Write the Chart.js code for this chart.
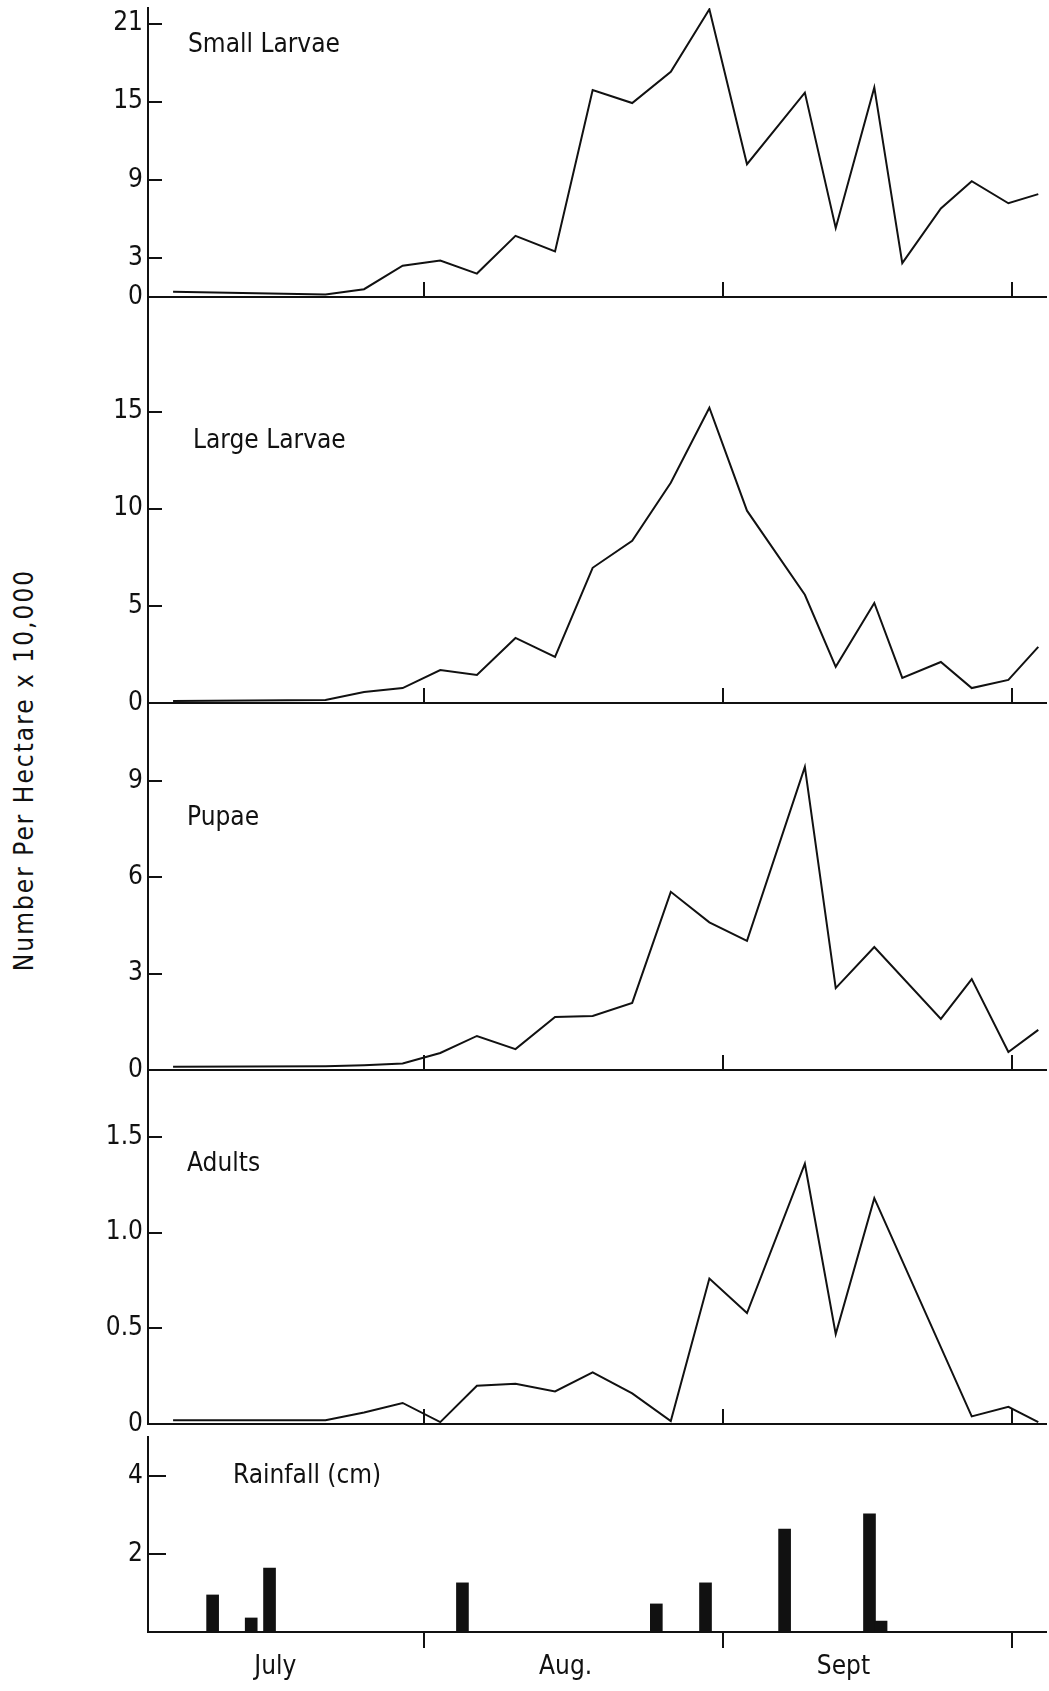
<!DOCTYPE html>
<html>
<head>
<meta charset="utf-8">
<title>Number per hectare and rainfall</title>
<script src="https://cdn.jsdelivr.net/npm/chart.js@4.4.1/dist/chart.umd.min.js"></script>
<style>
  html, body { margin: 0; padding: 0; background: #fff; }
  #figure { position: relative; width: 1049px; height: 1691px; overflow: hidden; }
  #figure canvas { position: absolute; left: 0; }
  #yTitle {
    position: absolute; left: 24px; top: 770px;
    transform: translate(-50%, -50%) rotate(-90deg);
    white-space: nowrap; color: #111;
    font: 26px 'DejaVu Sans Condensed', 'Liberation Sans Narrow', 'DejaVu Sans', sans-serif;
    letter-spacing: 2px;
  }
</style>
</head>
<body>
<div id="figure">
  <div id="yTitle">Number Per Hectare x 10,000</div>
</div>
<script>
// Days are counted from July 1 (Aug 1 = 31, Sept 1 = 62, Oct 1 = 92)
const sampleDays = [5, 20.8, 24.8, 28.8, 32.7, 36.5, 40.5, 44.6, 48.5, 52.6, 56.6, 60.6, 64.5, 70.5, 73.7, 77.7, 80.6, 84.6, 87.8, 91.6, 94.7];

const smallLarvae = [0.4, 0.2, 0.6, 2.4, 2.8, 1.8, 4.7, 3.5, 15.9, 14.9, 17.3, 22.1, 10.2, 15.7, 5.3, 16.1, 2.6, 6.8, 8.9, 7.2, 7.9];
const largeLarvae = [0.1, 0.15, 0.57, 0.77, 1.7, 1.44, 3.35, 2.37, 6.96, 8.35, 11.34, 15.2, 9.9, 5.57, 1.86, 5.15, 1.29, 2.11, 0.77, 1.19, 2.89];
const pupae = [0.1, 0.12, 0.15, 0.2, 0.53, 1.06, 0.65, 1.65, 1.68, 2.09, 5.55, 4.6, 4.02, 9.44, 2.55, 3.83, null, 1.59, 2.83, 0.56, 1.25];
const adults = [0.02, 0.02, 0.06, 0.11, 0.01, 0.2, 0.21, 0.17, 0.27, 0.16, 0.015, 0.76, 0.58, 1.36, 0.47, 1.18, null, null, 0.04, 0.09, 0.01];

const rainDays = [9.1, 13.1, 15.0, 35.0, 55.1, 60.2, 68.4, 77.2, 78.4];
const rainCm = [0.95, 0.36, 1.64, 1.26, 0.72, 1.26, 2.64, 3.03, 0.28];

const monthStarts = [31, 62, 92];
const monthLabelDays = [15.6, 45.7, 74.5];
const monthNames = ['July', 'Aug.', 'Sept'];

const smallTicks = [0, 3, 9, 15, 21];
const largeTicks = [0, 5, 10, 15];
const pupaeTicks = [0, 3, 6, 9];
const adultTicks = [0, 0.5, 1.0, 1.5];
const rainTicks = [2, 4];

const FONT = "'DejaVu Sans Condensed', 'Liberation Sans Narrow', 'DejaVu Sans', sans-serif";
const INK = '#111';
const PAD = 40;
const X_MIN = 2.4;
const X_MAX = 95.5;

Chart.defaults.font.family = FONT;
Chart.defaults.font.size = 26;
Chart.defaults.color = INK;

// inward tick marks, month marks and the panel caption
const axisMarks = {
    id: 'axisMarks',
    afterDraw(chart, args, opts) {
        const { ctx, chartArea, scales } = chart;
        ctx.save();
        ctx.strokeStyle = INK;
        ctx.lineWidth = 2;
        ctx.beginPath();
        scales.y.ticks.forEach(t => {
            if (t.value === 0) return;
            const py = Math.round(scales.y.getPixelForValue(t.value));
            ctx.moveTo(chartArea.left, py);
            ctx.lineTo(chartArea.left + opts.yLen, py);
        });
        monthStarts.forEach(d => {
            const px = Math.round(scales.x.getPixelForValue(d));
            ctx.moveTo(px, chartArea.bottom);
            ctx.lineTo(px, chartArea.bottom + opts.xLen);
        });
        ctx.stroke();

        ctx.fillStyle = INK;
        ctx.font = '26px ' + FONT;
        ctx.textBaseline = 'alphabetic';
        ctx.textAlign = 'left';
        ctx.fillText(opts.label, opts.labelX, opts.labelY - chart.canvas.offsetTop);
        ctx.restore();
    }
};

const figure = document.getElementById('figure');

function addCanvas(top, height) {
    const c = document.createElement('canvas');
    c.width = 1049;
    c.height = height;
    c.style.top = top + 'px';
    figure.appendChild(c);
    return c;
}

function panelOptions(p) {
    return {
        responsive: false,
        animation: false,
        events: [],
        layout: { padding: { top: PAD, bottom: p.padBottom, left: 0, right: 3 } },
        plugins: {
            legend: { display: false },
            tooltip: { enabled: false },
            axisMarks: {
                yLen: p.yLen, xLen: p.xLen,
                label: p.label, labelX: p.labelX, labelY: p.labelY
            }
        },
        scales: {
            x: {
                type: 'linear',
                min: X_MIN,
                max: X_MAX,
                offset: false,
                grid: { display: false, drawTicks: false, offset: false },
                border: { display: true, color: INK, width: 2 },
                ticks: {
                    display: p.showMonths,
                    padding: 20,
                    maxRotation: 0,
                    autoSkip: false,
                    callback: (v, i) => monthNames[i]
                },
                afterBuildTicks: s => { s.ticks = monthLabelDays.map(v => ({ value: v })); },
                afterFit: s => { s.height = p.xHeight; }
            },
            y: {
                type: 'linear',
                min: 0,
                max: p.max,
                grid: { display: false, drawTicks: false },
                border: { display: true, color: INK, width: 2 },
                ticks: {
                    padding: 5,
                    callback: p.fmt || (v => String(v))
                },
                afterBuildTicks: s => { s.ticks = p.ticks.map(v => ({ value: v })); },
                afterFit: s => { s.width = 148; }
            }
        }
    };
}

function linePanel(p) {
    const canvas = addCanvas(p.top - PAD, p.bottom - p.top + 2 * PAD);
    return new Chart(canvas, {
        type: 'line',
        data: {
            datasets: [{
                label: p.label,
                data: sampleDays.map((d, i) => ({ x: d, y: p.values[i] })),
                borderColor: INK,
                borderWidth: 2,
                pointRadius: 0,
                tension: 0,
                spanGaps: true,
                fill: false
            }]
        },
        options: panelOptions(Object.assign({ padBottom: PAD, xHeight: 0, showMonths: false, yLen: 14, xLen: -15 }, p)),
        plugins: [axisMarks]
    });
}

linePanel({ label: 'Small Larvae', values: smallLarvae, ticks: smallTicks, max: 22.2, top: 8, bottom: 297, labelX: 188, labelY: 52 });
linePanel({ label: 'Large Larvae', values: largeLarvae, ticks: largeTicks, max: 20.9, top: 297, bottom: 703, labelX: 193, labelY: 448 });
linePanel({ label: 'Pupae', values: pupae, ticks: pupaeTicks, max: 11.43, top: 703, bottom: 1070, labelX: 187, labelY: 825 });
linePanel({
    label: 'Adults', values: adults, ticks: adultTicks, max: 1.85, top: 1070, bottom: 1424, labelX: 187, labelY: 1171,
    fmt: v => (v === 0 ? '0' : v.toFixed(1))
});

// rainfall bars
const rainTop = 1437;
const rainCanvas = addCanvas(rainTop - PAD, 1691 - (rainTop - PAD));
new Chart(rainCanvas, {
    type: 'bar',
    data: {
        datasets: [{
            label: 'Rainfall (cm)',
            data: rainDays.map((d, i) => ({ x: d, y: rainCm[i] })),
            backgroundColor: INK,
            borderWidth: 0,
            barThickness: 12
        }]
    },
    options: panelOptions({
        ticks: rainTicks, max: 5, padBottom: 0, xHeight: 59, showMonths: true,
        yLen: 18, xLen: 16, label: 'Rainfall (cm)', labelX: 233, labelY: 1483
    }),
    plugins: [axisMarks]
});
</script>
</body>
</html>
